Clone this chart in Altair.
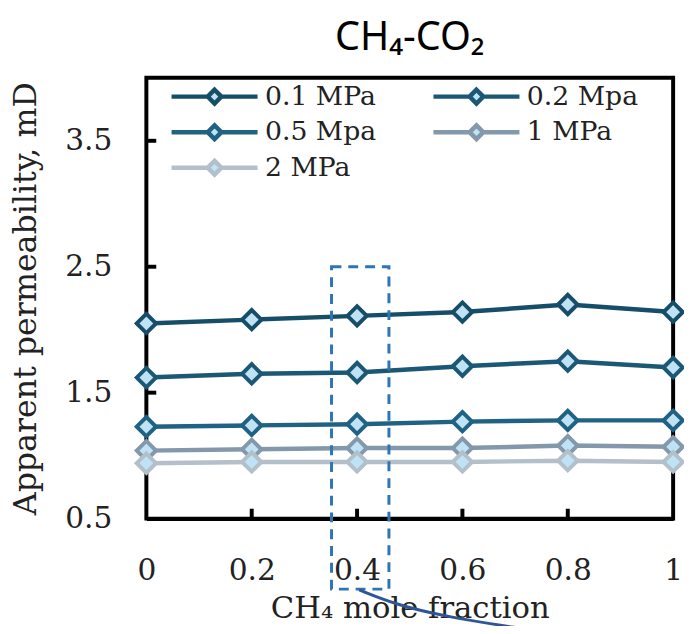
import altair as alt
import pandas as pd

# ---- data ----
ch4_fraction = [0.0, 0.2, 0.4, 0.6, 0.8, 1.0]
series_names = ["0.1 MPa", "0.2 Mpa", "0.5 Mpa", "1 MPa", "2 MPa"]
perm_01 = [2.05, 2.08, 2.11, 2.14, 2.20, 2.14]
perm_02 = [1.62, 1.65, 1.66, 1.71, 1.75, 1.70]
perm_05 = [1.23, 1.24, 1.25, 1.27, 1.28, 1.28]
perm_1 = [1.04, 1.05, 1.06, 1.06, 1.08, 1.07]
perm_2 = [0.94, 0.95, 0.95, 0.95, 0.96, 0.95]
series_colors = ["#164d69", "#1b5876", "#206283", "#8398ab", "#b3c0ca"]

y_tick_values = [0.5, 1.5, 2.5, 3.5]
x_tick_values = [0.0, 0.2, 0.4, 0.6, 0.8, 1.0]

# annotation (dashed box round x = 0.4 and a curved connector), in data units
box_x = [0.3515]
box_x2 = [0.4605]
box_y = [2.5]
box_y2 = [-0.06]
curve_x = [0.404, 0.474, 0.568, 0.724]
curve_y = [-0.066, -0.184, -0.279, -0.38]

rows = []
for name, vals in zip(series_names, [perm_01, perm_02, perm_05, perm_1, perm_2]):
    for xv, yv in zip(ch4_fraction, vals):
        rows.append({"series": name, "x": xv, "y": yv})
df = pd.DataFrame(rows)

MARKER_FILL = "#bfe3f5"
SERIF = "DejaVu Serif"

xscale = alt.Scale(domain=[0, 1], nice=False, zero=False)
yscale = alt.Scale(domain=[0.5, 4.0], nice=False, zero=False)
stroke_scale = alt.Scale(domain=series_names, range=series_colors)

legend_path = "M-1,0L-0.16,0M0.16,0L1,0M0,-0.16L0.16,0L0,0.16L-0.16,0Z"
legend = alt.Legend(
    title=None,
    orient="none",
    direction="horizontal",
    legendX=23,
    legendY=7,
    columns=2,
    columnPadding=55,
    rowPadding=9,
    clipHeight=24,
    symbolType=legend_path,
    symbolSize=87 * 87,
    symbolStrokeWidth=4.5,
    symbolFillColor=MARKER_FILL,
    symbolOpacity=1,
    labelFont=SERIF,
    labelFontSize=27,
    labelColor="#222222",
    labelOffset=5,
    labelLimit=300,
    padding=0,
)

x_axis = alt.Axis(
    values=x_tick_values,
    format="~g",
    ticks=False,
    tickSize=0,
    grid=False,
    domain=True,
    domainColor="black",
    domainWidth=4,
    labelFont=SERIF,
    labelFontSize=30,
    labelColor="#222222",
    labelPadding=38,
    labelFlush=False,
    title="CH₄ mole fraction",
    titleFont=SERIF,
    titleFontSize=31,
    titleFontWeight="normal",
    titleColor="#222222",
    titlePadding=8,
)
y_axis = alt.Axis(
    values=y_tick_values,
    format=".1f",
    ticks=False,
    tickSize=0,
    grid=False,
    domain=False,
    labelFont=SERIF,
    labelFontSize=30,
    labelColor="#222222",
    labelPadding=35,
    title="Apparent permeability, mD",
    titleFont=SERIF,
    titleFontSize=32,
    titleFontWeight="normal",
    titleColor="#222222",
    titlePadding=22,
)

base = alt.Chart(df)

lines = base.mark_line(strokeWidth=4.5, clip=False).encode(
    x=alt.X("x:Q", scale=xscale, axis=x_axis),
    y=alt.Y("y:Q", scale=yscale, axis=y_axis),
    stroke=alt.Stroke("series:N", scale=stroke_scale, sort=series_names, legend=legend),
    detail="series:N",
)

points = base.mark_point(
    shape="diamond", filled=True, fill=MARKER_FILL, size=380, strokeWidth=4, opacity=1, clip=False
).encode(
    x=alt.X("x:Q", scale=xscale),
    y=alt.Y("y:Q", scale=yscale),
    stroke=alt.Stroke("series:N", scale=stroke_scale, sort=series_names, legend=legend),
)

ytick_df = pd.DataFrame({"v": y_tick_values[1:]})
yticks = alt.Chart(ytick_df).mark_rule(color="black", strokeWidth=4).encode(
    y=alt.Y("v:Q", scale=yscale),
    x=alt.value(0),
    x2=alt.value(10),
)
xtick_df = pd.DataFrame({"v": x_tick_values[1:-1]})
xticks = alt.Chart(xtick_df).mark_rule(color="black", strokeWidth=4).encode(
    x=alt.X("v:Q", scale=xscale),
    y=alt.value(446),
    y2=alt.value(436),
)

box_df = pd.DataFrame({"x": box_x, "x2": box_x2, "y": box_y, "y2": box_y2})
box = alt.Chart(box_df).mark_rect(
    fill=None, fillOpacity=0, stroke="#2e75b6", strokeWidth=3, strokeDash=[10, 7], clip=False
).encode(
    x=alt.X("x:Q", scale=xscale),
    x2="x2:Q",
    y=alt.Y("y:Q", scale=yscale),
    y2="y2:Q",
)

curve_df = pd.DataFrame({"x": curve_x, "y": curve_y, "o": list(range(len(curve_x)))})
curve = alt.Chart(curve_df).mark_line(
    color="#2f5597", strokeWidth=3, interpolate="basis", clip=False
).encode(
    x=alt.X("x:Q", scale=xscale),
    y=alt.Y("y:Q", scale=yscale),
    order="o:Q",
)

chart = alt.layer(lines, points, yticks, xticks, box, curve).properties(
    width=533,
    height=446,
    autosize="none",
    padding={"left": 140, "top": 67, "right": 11, "bottom": 105},
    title=alt.TitleParams(
        text="CH₄-CO₂",
        font="Noto Sans",
        fontSize=40,
        fontWeight="normal",
        color="black",
        anchor="middle",
        offset=20,
    ),
).configure(background="white").configure_view(stroke="black", strokeWidth=4)

chart.save("out.html", embed_options={"renderer": "svg", "actions": False})
